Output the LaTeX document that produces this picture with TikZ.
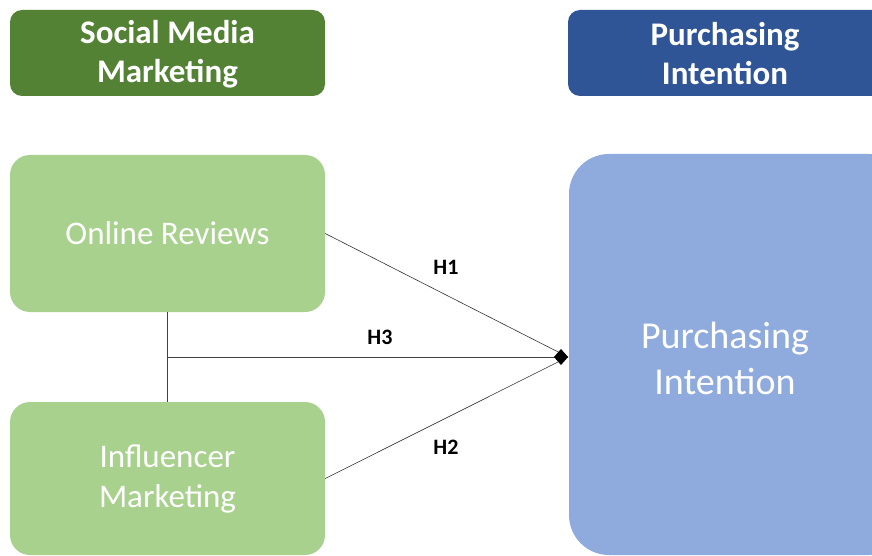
\documentclass[tikz,border=0pt]{standalone}
\usepackage{fontspec}
\setmainfont{Carlito}
\usetikzlibrary{arrows.meta}
\definecolor{smmgreen}{HTML}{548235}
\definecolor{boxgreen}{HTML}{A9D18E}
\definecolor{pidarkblue}{HTML}{2F5597}
\definecolor{pilightblue}{HTML}{8FAADC}
\definecolor{linkgray}{HTML}{404040}
\tikzset{
  header/.style={draw=none, rounded corners=12pt, text=white, align=center,
    font=\fontsize{33}{39}\selectfont\bfseries, inner sep=0pt},
  factor/.style={draw=none, fill=boxgreen, rounded corners=20pt, text=white,
    align=center, font=\fontsize{33}{40}\selectfont, inner sep=0pt,
    minimum width=315pt},
  outcome/.style={draw=none, fill=pilightblue, rounded corners=40pt, text=white,
    align=center, font=\fontsize{38}{46}\selectfont, inner sep=0pt},
  link/.style={draw=linkgray, line width=0.8pt},
  hyp/.style={font=\fontsize{22}{26}\selectfont\bfseries, text=black, inner sep=0pt},
}
\begin{document}
\begin{tikzpicture}[x=1pt, y=-1pt]
  \useasboundingbox (0,0) rectangle (872,556);
  \clip (0,0) rectangle (872,556);
  \fill[white] (0,0) rectangle (872,556);

  % section headers
  \fill[smmgreen, rounded corners=12pt] (10,10) rectangle (325,96);
  \node[header] (hsmm) at (167.5,54) {Social Media\\Marketing};
  \fill[pidarkblue, rounded corners=12pt] (568,10) rectangle (900,96);
  \node[header] (hpi) at (725,54) {Purchasing\\Intention};

  % factor boxes
  \node[factor, minimum height=157pt] (or) at (167.5,233.5) {Online Reviews};
  \node[factor, minimum height=153pt] (im) at (167.5,478.5) {Influencer\\Marketing};

  % outcome box
  \node[outcome, minimum width=340pt, minimum height=401pt] (pi) at (739,354.5) {};
  \node[outcome, fill=none] (pitext) at (725,358) {Purchasing\\Intention};

  % connectors
  \coordinate (tip) at (568,357);
  \coordinate (join) at (or.south |- tip);
  \draw[link] (or.south) -- (im.north);
  \draw[link, line width=0.6pt, draw=black!80] (or.east) -- (tip);
  \draw[link, line width=0.6pt, draw=black!80] (im.east) -- (tip);
  \draw[link, -{Diamond[length=14pt,width=16pt,black,fill=black]}] (join) -- (tip);

  % hypothesis labels
  \node[hyp] (h1) at (446,267) {H1};
  \node[hyp] (h3) at (380,337) {H3};
  \node[hyp] (h2) at (446,447) {H2};
\end{tikzpicture}
\end{document}
